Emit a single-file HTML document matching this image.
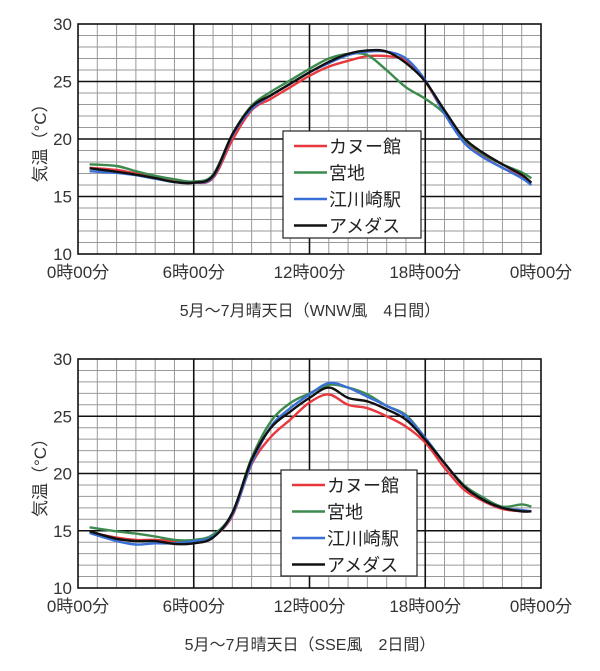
<!DOCTYPE html>
<html><head><meta charset="utf-8"><style>
body{margin:0;background:#fff;width:600px;height:671px;overflow:hidden}
svg{display:block;font-family:"Liberation Sans","Noto Sans CJK JP",sans-serif}
</style></head><body>
<svg id="s" width="600" height="671"></svg>
<script>
const seriesNames=["カヌー館","宮地","江川崎駅","アメダス"];
const colors=["#e8383d","#3c8a4e","#3a6fd8","#111111"];
const hours=[0.6,2,3,4,5,6,7,8,9,10,11,12,13,14,15,16,17,18,19,20,21,22,23,23.5];
const xTickLabels=["0時00分","6時00分","12時00分","18時00分","0時00分"];
const yTicks=[10,15,20,25,30];
const topRed=[17.5,17.3,17.0,16.7,16.35,16.2,16.6,19.9,22.5,23.5,24.5,25.5,26.3,26.8,27.2,27.2,26.85,25.0,22.2,19.8,18.5,17.5,16.8,16.2];
const topGreen=[17.8,17.65,17.2,16.8,16.5,16.3,16.9,20.4,22.9,24.1,25.1,26.1,27.0,27.4,27.3,25.97,24.5,23.5,22.2,20.0,18.7,17.8,17.1,16.6];
const topBlue=[17.2,17.05,16.85,16.55,16.25,16.2,16.7,20.3,22.6,23.8,24.8,25.8,26.6,27.3,27.6,27.6,27.0,25.1,22.2,19.7,18.4,17.5,16.6,16.0];
const topBlack=[17.45,17.15,16.9,16.6,16.25,16.2,16.8,20.4,22.8,23.8,24.8,25.8,26.7,27.4,27.7,27.6,26.6,25.0,22.5,20.1,18.8,17.8,16.9,16.2];
const botRed=[14.85,14.4,14.2,14.2,14.1,14.1,14.5,16.3,20.8,23.2,24.7,26.2,26.9,26.0,25.7,25.0,24.1,22.7,20.5,18.6,17.6,16.9,16.7,16.7];
const botGreen=[15.3,14.95,14.75,14.5,14.2,14.2,14.65,16.55,21.35,24.55,26.15,27.0,27.75,27.5,26.9,25.9,25.1,23.1,20.9,19.0,17.9,17.1,17.3,17.1];
const botBlue=[14.8,14.1,13.8,13.9,13.9,14.1,14.5,16.4,20.9,24.1,25.7,26.9,27.9,27.5,26.7,25.9,25.0,23.1,20.9,18.9,17.7,17.0,16.8,16.7];
const botBlack=[14.95,14.3,14.1,14.1,13.85,13.9,14.4,16.55,21.2,24.0,25.4,26.6,27.5,26.6,26.3,25.6,24.7,22.95,20.9,18.9,17.7,17.0,16.7,16.7];
const NS="http://www.w3.org/2000/svg";
const svg=document.getElementById('s');
function mk(tag,attrs,parent,text){const e=document.createElementNS(NS,tag);for(const k in attrs)e.setAttribute(k,attrs[k]);if(text!==undefined)e.textContent=text;(parent||svg).appendChild(e);return e;}
function smooth(pts){
  let d='M'+pts[0][0].toFixed(1)+' '+pts[0][1].toFixed(1);
  for(let i=0;i<pts.length-1;i++){
    const p0=pts[Math.max(0,i-1)],p1=pts[i],p2=pts[i+1],p3=pts[Math.min(pts.length-1,i+2)];
    const c1x=p1[0]+(p2[0]-p0[0])/6,c1y=p1[1]+(p2[1]-p0[1])/6;
    const c2x=p2[0]-(p3[0]-p1[0])/6,c2y=p2[1]-(p3[1]-p1[1])/6;
    d+=` C${c1x.toFixed(1)} ${c1y.toFixed(1)} ${c2x.toFixed(1)} ${c2y.toFixed(1)} ${p2[0].toFixed(1)} ${p2[1].toFixed(1)}`;
  }
  return d;
}
function chart(top,bottom,title,data,leg,prefix){
  const L=78,R=541;
  const g=mk('g',{});
  
  
  const x=h=>L+(R-L)*h/24, y=v=>bottom-(bottom-top)*(v-10)/20;
  for(let h=1;h<24;h++){if(h%6)mk('line',{x1:x(h),x2:x(h),y1:top,y2:bottom,stroke:'#999','stroke-width':1},g);}
  for(let v=11;v<30;v++){if(v%5)mk('line',{x1:L,x2:R,y1:y(v),y2:y(v),stroke:'#999','stroke-width':1},g);}
  for(let h=6;h<24;h+=6)mk('line',{x1:x(h),x2:x(h),y1:top,y2:bottom,stroke:'#111','stroke-width':1.6},g);
  for(let v=15;v<30;v+=5)mk('line',{x1:L,x2:R,y1:y(v),y2:y(v),stroke:'#111','stroke-width':1.6},g);
  mk('rect',{x:L,y:top,width:R-L,height:bottom-top,fill:'none',stroke:'#111','stroke-width':1.6},g);
  yTicks.forEach(v=>{const t=mk('text',{x:72,y:y(v)+6,'text-anchor':'end','font-size':17,fill:'#333'},g,v);
    });
  xTickLabels.forEach((s,i)=>{const t=mk('text',{x:x(i*6),y:bottom+24,'text-anchor':'middle','font-size':17,fill:'#333'},g,s);
    });
  const xt=mk('text',{x:310,y:bottom+62,'text-anchor':'middle','font-size':16,fill:'#333'},g,title);
  
  const cy=(top+bottom)/2;
  const yt=mk('text',{x:0,y:0,transform:`translate(46,${cy}) rotate(-90)`,'text-anchor':'middle','font-size':17,fill:'#333'},g,'気温（°C）');
  
  data.forEach((arr,si)=>{
    const d=smooth(arr.map((v,i)=>[x(hours[i]),y(v)]));
    const p=mk('path',{d,fill:'none',stroke:colors[si],'stroke-width':2.4,'stroke-linejoin':'round'},g);
    
  });
  const lg=mk('g',{},g);
  
  mk('rect',{x:leg[0],y:leg[1],width:leg[2],height:leg[3],fill:'#fff',stroke:'#222','stroke-width':1.2},lg);
  seriesNames.forEach((n,i)=>{const yy=leg[1]+15+i*26.5;
    const e=mk('g',{},lg);
    
    mk('line',{x1:leg[0]+11,x2:leg[0]+44,y1:yy,y2:yy,stroke:colors[i],'stroke-width':2.6},e);
    mk('text',{x:leg[0]+46,y:yy+7,'font-size':18,fill:'#222'},e,n);});
}
chart(24,254,'5月～7月晴天日（WNW風　4日間）',[topRed,topGreen,topBlue,topBlack],[283,131,138,107],'top');
chart(359,588,'5月～7月晴天日（SSE風　2日間）',[botRed,botGreen,botBlue,botBlack],[281,470,136,106],'bottom');
</script>
</body></html>
